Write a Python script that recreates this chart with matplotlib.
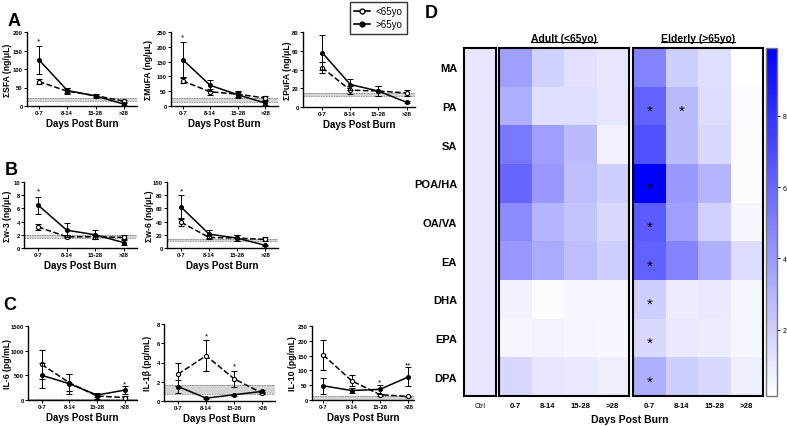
import numpy as np
import matplotlib
matplotlib.use("Agg")
import matplotlib.pyplot as plt
from matplotlib.colors import LinearSegmentedColormap
from matplotlib.lines import Line2D

plt.rcParams['font.family'] = ['Liberation Sans', 'DejaVu Sans']

W, H = 787, 427
fig = plt.figure(figsize=(W / 100, H / 100), dpi=100)


def add_ax(left, top, right, bottom):
    # pixel box (from top-left) -> figure axes
    return fig.add_axes([left / W, 1 - bottom / H, (right - left) / W, (bottom - top) / H])


days = ['0-7', '8-14', '15-28', '>28']

# ---- panel A / B / C data (mean, sem) ----
sfa_young = [66, 40, 28, 13]
sfa_young_err = [6, 8, 5, 3]
sfa_old = [125, 42, 27, 5]
sfa_old_err = [38, 8, 5, 3]

mufa_young = [85, 48, 40, 27]
mufa_young_err = [8, 10, 10, 8]
mufa_old = [157, 70, 38, 10]
mufa_old_err = [58, 18, 10, 6]

pufa_young = [42, 18, 17, 15]
pufa_young_err = [6, 4, 5, 3]
pufa_old = [58, 24, 17, 5]
pufa_old_err = [19, 6, 5, 1]

w3_young = [3.2, 1.7, 1.7, 1.6]
w3_young_err = [0.4, 0.2, 0.3, 0.3]
w3_old = [6.5, 2.7, 2.0, 0.8]
w3_old_err = [1.3, 1.1, 0.7, 0.4]

w6_young = [39, 16, 15, 13]
w6_young_err = [6, 3, 5, 3]
w6_old = [62, 21, 15, 4]
w6_old_err = [18, 6, 5, 1]

il6_young = [720, 350, 80, 50]
il6_young_err = [300, 170, 50, 40]
il6_old = [500, 330, 100, 200]
il6_old_err = [250, 200, 40, 80]

il1b_young = [2.8, 4.7, 2.3, 0.8]
il1b_young_err = [1.2, 1.6, 0.8, 0.1]
il1b_old = [1.5, 0.3, 0.65, 1.0]
il1b_old_err = [0.7, 0.05, 0.1, 0.15]

il10_young = [152, 65, 18, 12]
il10_young_err = [52, 18, 3, 3]
il10_old = [48, 32, 36, 78]
il10_old_err = [28, 10, 16, 32]

# ---- panel D data ----
acids = ['MA', 'PA', 'SA', 'POA/HA', 'OA/VA', 'EA', 'DHA', 'EPA', 'DPA']
ctrl_vals = [1.1, 1.1, 1.1, 1.1, 1.1, 1.1, 1.1, 1.1, 1.1]
adult_vals = [
    [3.8, 1.9, 1.3, 1.1],
    [3.2, 1.4, 1.4, 1.1],
    [5.3, 3.8, 2.8, 0.7],
    [6.0, 4.1, 2.6, 2.0],
    [4.6, 3.0, 2.4, 1.6],
    [4.1, 3.4, 2.6, 2.0],
    [0.7, 0.35, 0.5, 0.5],
    [0.5, 0.6, 0.5, 0.45],
    [1.7, 1.1, 1.0, 0.8],
]
elderly_vals = [
    [4.9, 2.0, 1.4, 0.15],
    [6.1, 2.8, 1.5, 0.4],
    [6.8, 2.8, 1.6, 0.35],
    [9.9, 4.1, 3.0, 0.35],
    [6.4, 3.8, 1.9, 0.5],
    [6.2, 4.9, 3.2, 1.5],
    [2.0, 0.9, 1.0, 0.5],
    [1.6, 1.0, 0.9, 0.5],
    [3.2, 2.0, 1.6, 0.8],
]
elderly_stars = [(1, 0), (1, 1), (3, 0), (4, 0), (5, 0), (6, 0), (7, 0), (8, 0)]


def line_panel(box, young, young_err, old, old_err, band, ymax, yticks, ylabel,
               label_x, xlim, stars=()):
    ax = add_ax(*box)
    x = np.arange(len(days))
    ax.axhspan(band[0], band[1], color='#d4d4d4', lw=0, zorder=0)
    for b in band:
        ax.axhline(b, color='#888888', lw=0.6, ls=(0, (2, 1)), zorder=1)
    ax.errorbar(x, young, yerr=young_err, color='black', ls='--', lw=1.1,
                marker='o', ms=3, mfc='white', mec='black', mew=0.8,
                capsize=2, elinewidth=0.7, capthick=0.7, zorder=3)
    ax.errorbar(x, old, yerr=old_err, color='black', ls='-', lw=1.1,
                marker='o', ms=2.6, mfc='black', mec='black',
                capsize=2, elinewidth=0.7, capthick=0.7, zorder=4)
    for i, yv, s in stars:
        ax.text(i, yv, s, ha='center', va='center', fontsize=6)
    ax.set_xlim(*xlim)
    ax.set_ylim(0, ymax)
    ax.set_yticks(yticks)
    ax.set_xticks(x)
    ax.set_xticklabels(days)
    for sp in ['top', 'right']:
        ax.spines[sp].set_visible(False)
    for sp in ['left', 'bottom']:
        ax.spines[sp].set_linewidth(1.0)
    ax.tick_params(labelsize=4.2, length=2, width=0.7, pad=1)
    for t in ax.get_xticklabels() + ax.get_yticklabels():
        t.set_fontweight('bold')
    ax.set_xlabel('Days Post Burn', fontsize=7, fontweight='bold', labelpad=2)
    ax.set_ylabel(ylabel, fontsize=6.2, fontweight='bold')
    # label_x is the right edge of the rotated label, in pixels
    ax.yaxis.set_label_coords((label_x - box[0]) / (box[2] - box[0]), 0.5)
    return ax


# row A
line_panel((27, 33, 137, 107), sfa_young, sfa_young_err, sfa_old, sfa_old_err,
           (13, 22), 200, [0, 50, 100, 150, 200], 'ΣSFA (ng/μL)', 12, (-0.42, 3.46),
           stars=[(0, 177, '*')])
line_panel((171, 33, 278, 107), mufa_young, mufa_young_err, mufa_old, mufa_old_err,
           (15, 28), 250, [0, 50, 100, 150, 200, 250], 'ΣMuFA (ng/μL)', 153, (-0.42, 3.46),
           stars=[(0, 232, '*')])
line_panel((303, 33, 415, 108), pufa_young, pufa_young_err, pufa_old, pufa_old_err,
           (11.5, 15), 80, [0, 20, 40, 60, 80], 'ΣPuFA (ng/μL)', 292, (-0.68, 3.3))

# row B
line_panel((24, 183, 137, 249), w3_young, w3_young_err, w3_old, w3_old_err,
           (1.5, 1.9), 10, [0, 2, 4, 6, 8, 10], 'Σw-3 (ng/μL)', 12, (-0.49, 3.45),
           stars=[(0, 8.6, '*')])
line_panel((167, 183, 278, 249), w6_young, w6_young_err, w6_old, w6_old_err,
           (10, 14), 100, [0, 20, 40, 60, 80, 100], 'Σw-6 (ng/μL)', 154, (-0.5, 3.45),
           stars=[(0, 87, '*')])

# row C
line_panel((28, 327, 137, 401), il6_young, il6_young_err, il6_old, il6_old_err,
           (0, 25), 1500, [0, 500, 1000, 1500], 'IL-6 (pg/mL)', 12, (-0.5, 3.45),
           stars=[(3, 320, '*')])
line_panel((164, 325, 275, 402), il1b_young, il1b_young_err, il1b_old, il1b_old_err,
           (0.75, 1.7), 8, [0, 2, 4, 6, 8], 'IL-1β (pg/mL)', 152, (-0.5, 3.45),
           stars=[(1, 6.8, '*'), (2, 3.6, '*')])
line_panel((312, 327, 414, 401), il10_young, il10_young_err, il10_old, il10_old_err,
           (0, 14), 250, [0, 50, 100, 150, 200, 250], 'IL-10 (pg/mL)', 297, (-0.4, 3.2),
           stars=[(2, 60, '*'), (3, 120, '**')])

# panel letters
for letter, px, py in [('A', 14, 21), ('B', 11, 171), ('C', 10, 305), ('D', 431, 14)]:
    fig.text(px / W, 1 - py / H, letter, fontsize=13, fontweight='bold',
             ha='center', va='center')

# legend
handles = [
    Line2D([], [], color='black', lw=1.2, marker='o', ms=3.5, mfc='white', mec='black'),
    Line2D([], [], color='black', lw=1.2, marker='o', ms=3.5, mfc='black', mec='black'),
]
leg = fig.legend(handles, ['<65yo', '>65yo'], loc='upper left',
                 bbox_to_anchor=(350 / W, 1 - 3 / H), fontsize=7, frameon=True,
                 fancybox=False, handlelength=1.6, handletextpad=0.6,
                 borderpad=0.45, labelspacing=0.3, borderaxespad=0)
leg.get_frame().set_edgecolor('black')
leg.get_frame().set_linewidth(1.0)

# ---- heatmap ----
cmap = LinearSegmentedColormap.from_list('wb', ['#ffffff', '#0000ff'])
vmin, vmax = 0.14, 9.9
n = len(acids)

ax_ctrl = add_ax(464, 49, 496, 397)
ax_ad = add_ax(499, 49, 629, 397)
ax_el = add_ax(633, 49, 763, 397)

ax_ctrl.pcolormesh(np.array(ctrl_vals).reshape(-1, 1), cmap=cmap, vmin=vmin, vmax=vmax)
ax_ad.pcolormesh(np.array(adult_vals), cmap=cmap, vmin=vmin, vmax=vmax)
mesh = ax_el.pcolormesh(np.array(elderly_vals), cmap=cmap, vmin=vmin, vmax=vmax)

for ax in (ax_ctrl, ax_ad, ax_el):
    ax.set_ylim(n, 0)
    for sp in ax.spines.values():
        sp.set_linewidth(1.5)
    ax.tick_params(length=0, pad=4, labelsize=5.6)

ax_ctrl.set_xticks([0.5])
ax_ctrl.set_xticklabels(['Ctrl'], fontsize=5)
ax_ctrl.set_yticks(np.arange(n) + 0.5)
ax_ctrl.set_yticklabels(acids, fontsize=8, fontweight='bold')
ax_ctrl.tick_params(axis='y', pad=5)

for ax in (ax_ad, ax_el):
    ax.set_xticks(np.arange(4) + 0.5)
    ax.set_xticklabels(days, fontweight='bold')
    ax.set_yticks([])

for r, c in elderly_stars:
    ax_el.text(c + 0.5, r + 0.62, '*', ha='center', va='center', fontsize=11)

cax = add_ax(766, 49, 777, 397)
cb = fig.colorbar(mesh, cax=cax)
cb.set_ticks([2, 4, 6, 8])
cb.outline.set_edgecolor('#777777')
cb.outline.set_linewidth(1.0)
cb.ax.tick_params(labelsize=5, length=2, width=0.7, pad=2)

fig.text(630 / W, 1 - 420 / H, 'Days Post Burn', fontsize=7.5, fontweight='bold',
         ha='center', va='center')

titles = []
for ax, title in [(ax_ad, 'Adult (<65yo)'), (ax_el, 'Elderly (>65yo)')]:
    pos = ax.get_position()
    t = fig.text((pos.x0 + pos.x1) / 2, 1 - 39 / H, title, fontsize=7.5,
                 fontweight='bold', ha='center', va='center')
    titles.append(t)

renderer = fig.canvas.get_renderer()
for t in titles:
    bb = t.get_window_extent(renderer).transformed(fig.transFigure.inverted())
    fig.add_artist(Line2D([bb.x0, bb.x1], [bb.y0 + 0.002, bb.y0 + 0.002],
                          transform=fig.transFigure, color='black', lw=0.8))

fig.savefig('out.png', dpi=100)
